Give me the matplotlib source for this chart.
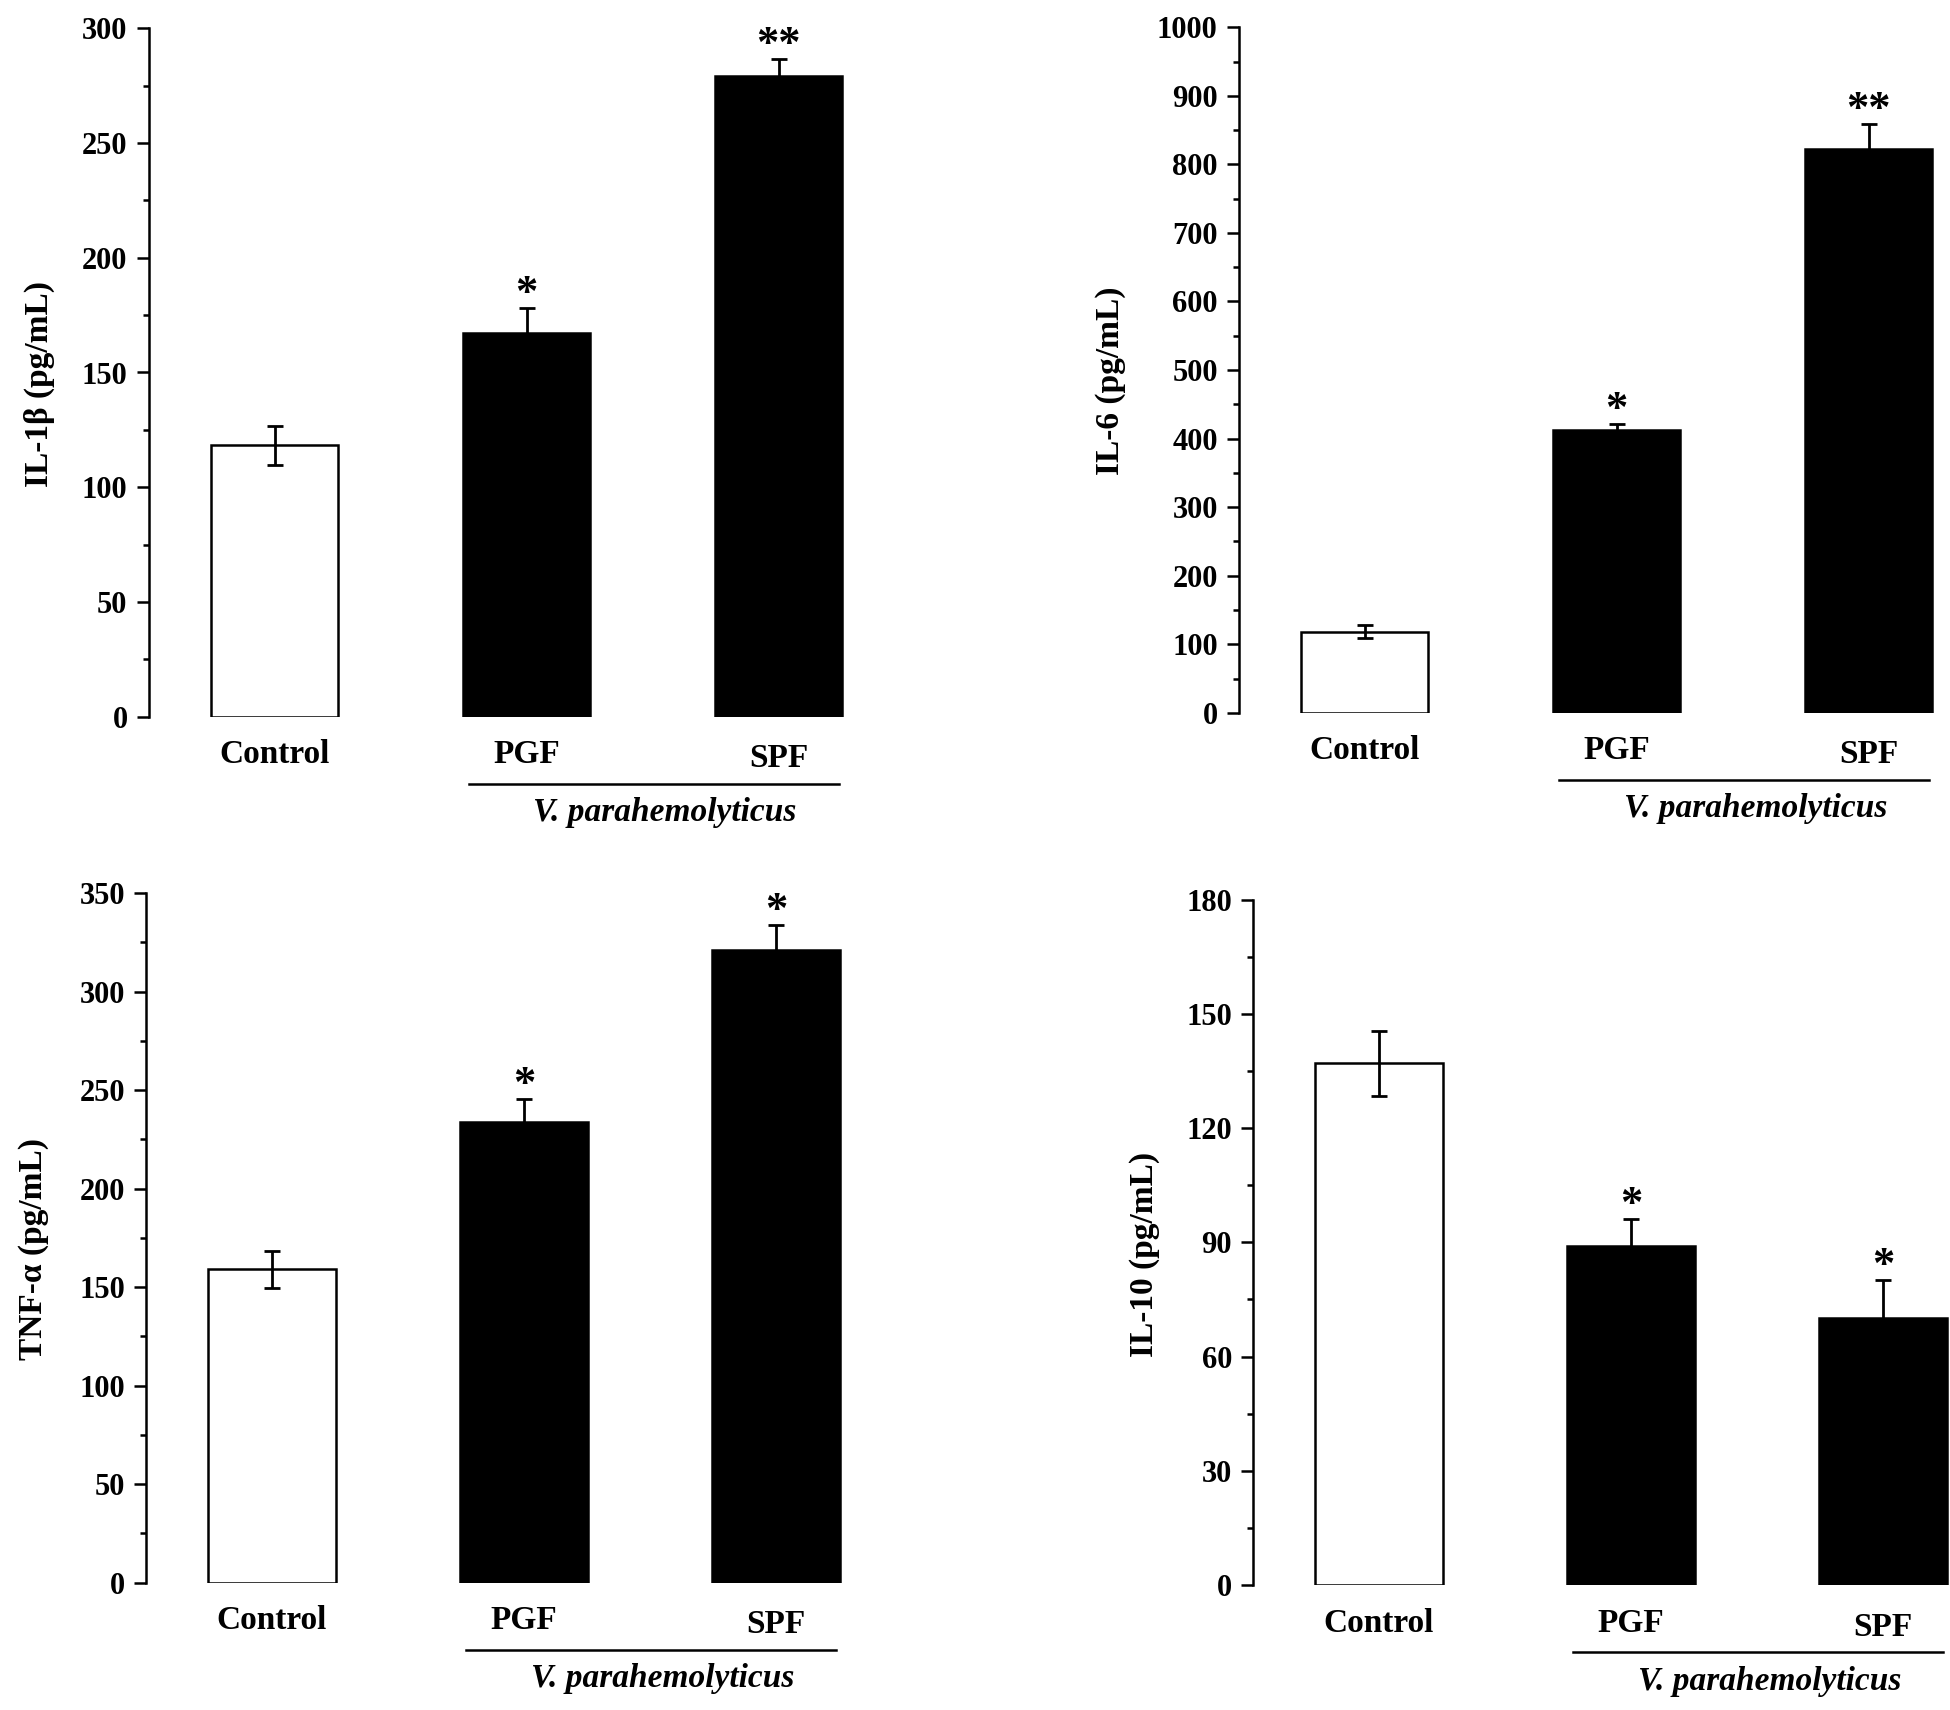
import matplotlib
matplotlib.use('Agg')
import matplotlib.pyplot as plt
import matplotlib.transforms as mtransforms
from matplotlib.ticker import MultipleLocator

plt.rcParams['font.family'] = ['Liberation Serif', 'DejaVu Serif']
plt.rcParams['font.weight'] = 'bold'

groups = ['Control', 'PGF', 'SPF']
group_label = 'V. parahemolyticus'

il1b_mean = [118.2, 167.0, 279.3]
il1b_err = [8.7, 11.0, 7.3]
il6_mean = [118, 412, 823]
il6_err = [9.5, 9.5, 36]
tnf_mean = [159.1, 234.0, 321.2]
tnf_err = [9.4, 11.7, 12.7]
il10_mean = [137.0, 89.1, 70.2]
il10_err = [8.5, 7.0, 10.0]

stars_il1b = ['', '*', '**']
stars_il6 = ['', '*', '**']
stars_tnf = ['', '*', '*']
stars_il10 = ['', '*', '*']

W, H = 1950, 1710
fig = plt.figure(figsize=(W / 100, H / 100), dpi=100)

SP = 252  # px between bar centres


def panel(c0, y0, ytop, ymax, major, minor, ylabel, lab_xy, means, errs, stars):
    left = (c0 - 0.5 * SP) / W
    ax = fig.add_axes([left, (H - y0) / H, 2.85 * SP / W, (y0 - ytop) / H])
    x = range(len(means))
    colors = ['white', 'black', 'black']
    ax.bar(x, means, width=0.506, color=colors, edgecolor='black', linewidth=1.8, zorder=2)
    ax.errorbar(x, means, yerr=errs, fmt='none', ecolor='black', elinewidth=2.0,
                capsize=6, capthick=2.0, zorder=3)
    for xi, m, e, s in zip(x, means, errs, stars):
        if s:
            ax.annotate(s, (xi, m + e), xytext=(0, 2), textcoords='offset points',
                        ha='center', va='baseline', fontsize=32, fontweight='bold')
    ax.set_xlim(-0.5, 2.35)
    ax.set_ylim(0, ymax)
    ax.yaxis.set_major_locator(MultipleLocator(major))
    ax.yaxis.set_minor_locator(MultipleLocator(minor))
    for sp in ['top', 'right', 'bottom']:
        ax.spines[sp].set_visible(False)
    ax.spines['left'].set_linewidth(1.8)
    ax.set_xticks([])
    ax.tick_params(axis='y', which='major', length=8.6, width=1.8, pad=6.5, labelsize=22)
    ax.tick_params(axis='y', which='minor', length=4.3, width=1.8)
    for lab in ax.get_yticklabels():
        lab.set_fontweight('bold')

    # category labels under the bars
    offs = [-38, -38, -42]
    for xi, g, o in zip(x, groups, offs):
        ax.annotate(g, (xi, 0), xycoords=('data', 'axes fraction'),
                    xytext=(0, o), textcoords='offset pixels',
                    ha='center', va='center', fontsize=24, fontweight='bold',
                    annotation_clip=False)
    # line grouping the two infected groups
    shift = mtransforms.ScaledTranslation(0, -67 / 100, fig.dpi_scale_trans)
    ax.plot([0.77, 2.24], [0, 0], color='black', lw=1.8, clip_on=False,
            transform=ax.get_xaxis_transform() + shift)
    ax.annotate(group_label, (1.55, 0), xycoords=('data', 'axes fraction'),
                xytext=(0, -96), textcoords='offset pixels',
                ha='center', va='center', fontsize=24, fontweight='bold',
                fontstyle='italic', annotation_clip=False)
    fig.text(lab_xy[0] / W, 1 - lab_xy[1] / H, ylabel, rotation=90, ha='center',
             va='center', fontsize=24, fontweight='bold')
    return ax


panel(274.5, 716.7, 28.3, 300, 50, 25, 'IL-1β (pg/mL)', (39, 384),
      il1b_mean, il1b_err, stars_il1b)
panel(1364.7, 712.8, 27.3, 1000, 100, 50, 'IL-6 (pg/mL)', (1110, 381),
      il6_mean, il6_err, stars_il6)
panel(272, 1582.5, 893.1, 350, 50, 25, 'TNF-α (pg/mL)', (34, 1249),
      tnf_mean, tnf_err, stars_tnf)
panel(1379, 1585, 899.7, 180, 30, 15, 'IL-10 (pg/mL)', (1144, 1254),
      il10_mean, il10_err, stars_il10)

fig.savefig('out.png', dpi=100)
